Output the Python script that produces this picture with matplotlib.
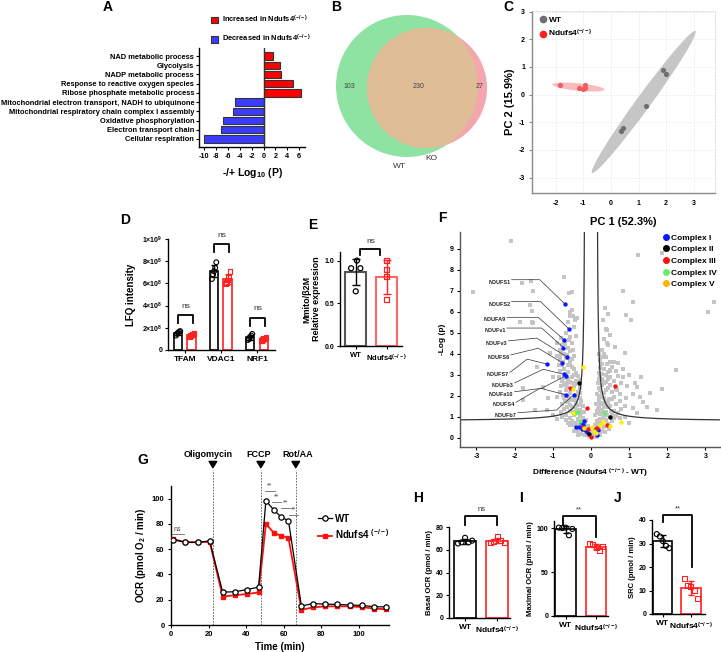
import numpy as np
import matplotlib
matplotlib.use('Agg')
import matplotlib.pyplot as plt
from matplotlib.patches import Circle, Ellipse, Patch
from matplotlib.lines import Line2D

plt.rcParams['font.family'] = ['Liberation Sans', 'DejaVu Sans']
plt.rcParams['font.weight'] = 'bold'
plt.rcParams['axes.labelweight'] = 'bold'
plt.rcParams['axes.unicode_minus'] = False
plt.rcParams['mathtext.fontset'] = 'custom'
plt.rcParams['mathtext.rm'] = 'Liberation Sans:bold'
plt.rcParams['mathtext.it'] = 'Liberation Sans:bold'
plt.rcParams['mathtext.bf'] = 'Liberation Sans:bold'
plt.rcParams['mathtext.default'] = 'rm'
plt.rcParams['axes.linewidth'] = 1.0

KO = r'Ndufs4$^{(-/-)}$'

# ---------------- data ----------------
# A: GO terms
go_terms = ['NAD metabolic process', 'Glycolysis', 'NADP metabolic process',
            'Response to reactive oxygen species', 'Ribose phosphate metabolic process',
            'Mitochondrial electron transport, NADH to ubiquinone',
            'Mitochondrial respiratory chain complex I assembly',
            'Oxidative phosphorylation', 'Electron transport chain', 'Cellular respiration']
go_logp = [1.6, 2.7, 3.0, 5.0, 6.25, -4.9, -5.2, -6.9, -7.2, -10.1]

# B: venn
venn_counts = ['103', '230', '27']   # WT only, shared, KO only
venn_names = ['WT', 'KO']

# C: PCA
pca_wt_x = [1.87, 2.0, 1.27, 0.42, 0.38]
pca_wt_y = [0.87, 0.76, -0.42, -1.22, -1.33]
pca_ko_x = [-1.85, -1.15, -1.0, -0.95, -0.93]
pca_ko_y = [0.35, 0.22, 0.2, 0.25, 0.33]

# D: LFQ intensity
lfq_genes = ['TFAM', 'VDAC1', 'NRF1']
lfq_wt = [[1.3e8, 1.45e8, 1.55e8, 1.65e8, 1.7e8],
          [6.4e8, 6.8e8, 7.1e8, 7.4e8, 7.9e8],
          [0.9e8, 1.0e8, 1.15e8, 1.3e8, 1.45e8]]
lfq_ko = [[1.25e8, 1.3e8, 1.35e8, 1.4e8, 1.45e8],
          [6.0e8, 6.1e8, 6.3e8, 6.5e8, 7.1e8],
          [0.85e8, 0.95e8, 1.0e8, 1.05e8, 1.15e8]]

# E: mito DNA
mmito_wt = [1.0, 0.91, 0.91, 0.64]
mmito_ko = [1.0, 0.89, 0.81, 0.54]

# F: volcano
gray_pts = [(-0.35, 0.30), (-0.30, 0.50), (-0.25, 0.20), (-0.20, 0.40), (-0.15, 0.15), (-0.10, 0.35),
            (-0.05, 0.10), (-0.40, 0.45), (-0.45, 0.60), (-0.50, 0.80), (-0.55, 0.95), (-0.40, 0.70),
            (-0.35, 0.90), (-0.25, 0.75), (-0.20, 0.95), (-0.60, 0.70), (-0.30, 1.05), (-0.15, 0.70),
            (-0.65, 1.10), (-0.55, 1.30), (-0.50, 1.45), (-0.40, 1.40), (-0.30, 1.35), (-0.25, 1.20),
            (-0.70, 1.40), (-0.20, 1.50), (-0.45, 1.10), (-0.75, 1.60), (-0.60, 1.70), (-0.50, 1.80),
            (-0.40, 1.65), (-0.30, 1.90), (-0.70, 1.90), (-0.35, 1.55), (-0.55, 1.55), (-0.25, 1.75),
            (-0.80, 2.20), (-0.65, 2.30), (-0.55, 2.15), (-0.45, 2.45), (-0.35, 2.20), (-0.70, 2.50),
            (-0.30, 2.40), (-0.60, 2.00), (-0.50, 2.60), (-0.75, 2.70), (-0.60, 2.80), (-0.50, 2.90),
            (-0.40, 2.70), (-0.85, 2.90), (-0.35, 2.95), (-0.65, 2.60), (-0.80, 3.20), (-0.70, 3.30),
            (-0.60, 3.15), (-0.50, 3.40), (-0.40, 3.10), (-0.85, 3.45), (-0.55, 3.50), (-0.80, 3.70),
            (-0.65, 3.80), (-0.55, 3.65), (-0.45, 3.90), (-0.70, 4.00), (-0.90, 3.90), (-0.80, 4.20),
            (-0.60, 4.30), (-0.50, 4.50), (-0.70, 4.60), (-0.55, 4.80), (-0.65, 5.00), (-0.45, 5.30),
            (-0.75, 4.40), (-0.60, 5.50), (-0.50, 6.10), (-0.55, 5.80),
            (-0.75, 1.00), (-0.65, 0.85), (-0.55, 0.60), (-0.45, 0.35), (-0.35, 0.15), (-0.28, 0.62),
            (-0.18, 0.55), (-0.12, 0.85), (-0.08, 0.55), (-0.78, 1.25), (-0.62, 1.45), (-0.48, 1.25),
            (-0.38, 1.18), (-0.28, 1.55), (-0.18, 1.25), (-0.42, 1.85), (-0.58, 1.90), (-0.68, 1.75),
            (-0.72, 2.05), (-0.52, 2.35), (-0.40, 2.05), (-0.28, 2.15), (-0.62, 2.45), (-0.42, 2.55),
            (-0.78, 2.45), (-0.70, 2.85), (-0.55, 2.65), (-0.45, 3.00), (-0.30, 2.75), (-0.65, 3.05),
            (-0.75, 3.45), (-0.45, 3.30), (-0.60, 3.45), (-0.72, 3.60), (-0.50, 3.75), (-0.62, 3.95),
            (-0.78, 4.05), (-0.55, 4.15), (-0.68, 4.45), (-0.58, 4.65),
            (0.05, 0.10), (0.10, 0.30), (0.15, 0.20), (0.20, 0.40), (0.25, 0.15), (0.30, 0.35),
            (0.08, 0.45), (0.35, 0.50), (0.10, 0.60), (0.15, 0.80), (0.20, 0.65), (0.25, 0.90),
            (0.30, 0.70), (0.40, 0.85), (0.45, 0.65), (0.55, 0.80), (0.60, 0.95), (0.35, 1.00),
            (0.10, 1.10), (0.15, 1.30), (0.20, 1.45), (0.25, 1.15), (0.30, 1.35), (0.40, 1.25),
            (0.45, 1.45), (0.55, 1.10), (0.60, 1.30), (0.70, 1.20), (0.80, 1.40), (0.50, 1.50),
            (0.12, 1.60), (0.20, 1.80), (0.30, 1.65), (0.35, 1.90), (0.45, 1.70), (0.55, 1.85),
            (0.65, 1.60), (0.75, 1.75), (0.25, 1.95), (0.15, 2.10), (0.25, 2.30), (0.35, 2.15),
            (0.45, 2.40), (0.55, 2.20), (0.65, 2.35), (0.75, 2.10), (0.30, 2.50), (0.18, 2.60),
            (0.30, 2.80), (0.40, 2.65), (0.50, 2.90), (0.60, 2.70), (0.70, 2.95), (0.25, 2.95),
            (0.20, 3.10), (0.35, 3.30), (0.45, 3.15), (0.55, 3.40), (0.30, 3.50), (0.65, 3.20),
            (0.25, 3.70), (0.40, 3.85), (0.50, 3.60), (0.35, 4.00), (0.30, 4.20), (0.45, 4.40),
            (0.35, 4.70), (0.50, 4.90), (0.40, 5.20),
            (0.02, 0.30), (0.12, 0.05), (0.18, 0.55), (0.28, 0.55), (0.38, 0.30), (0.48, 0.45),
            (0.22, 0.85), (0.32, 0.95), (0.50, 1.00), (0.65, 1.05), (0.18, 1.20), (0.28, 1.25),
            (0.35, 1.45), (0.42, 1.10), (0.52, 1.30), (0.18, 1.40), (0.25, 1.60), (0.40, 1.55),
            (0.48, 1.85), (0.38, 1.75), (0.60, 1.95), (0.20, 2.00), (0.30, 2.15), (0.40, 2.30),
            (0.22, 2.40), (0.50, 2.50), (0.35, 2.60), (0.45, 2.80), (0.20, 2.80), (0.28, 3.05),
            (0.40, 3.00), (0.50, 3.20), (0.25, 3.35), (0.42, 3.50), (0.30, 3.85), (0.22, 4.00),
            (0.60, 3.60), (0.85, 3.30), (1.00, 3.00), (1.15, 2.60), (1.30, 2.90), (0.95, 2.45),
            (1.10, 2.10), (0.80, 2.60), (0.90, 1.50), (1.20, 1.20), (0.75, 0.95),
            (-2.09, 9.38), (-0.71, 7.68), (-0.57, 6.89), (-0.49, 6.94), (-3.10, 6.94), (-1.81, 7.36),
            (-1.58, 7.48), (-1.51, 6.97), (1.22, 8.71), (1.85, 8.79), (0.85, 7.00), (1.11, 6.49),
            (3.23, 6.49), (3.07, 5.99), (0.37, 6.18), (0.45, 5.89), (0.93, 5.86), (1.06, 5.59),
            (-0.55, 6.00), (-0.48, 5.80), (-0.42, 5.60), (-1.60, 6.33), (-1.55, 6.02), (-1.86, 5.54),
            (-1.55, 5.54), (-1.51, 5.46), (-0.36, 5.70), (2.24, 3.24), (1.85, 2.33), (1.46, 1.49),
            (1.28, 1.97), (1.20, 2.44), (0.85, 2.92), (0.72, 3.56), (0.41, 4.51), (0.41, 5.14),
            (0.32, 5.62), (0.63, 4.35), (0.89, 4.03), (0.50, 3.24), (0.67, 2.29), (0.93, 1.89),
            (1.11, 1.41), (1.37, 1.73), (1.72, 1.33), (1.54, 2.13), (-1.12, 1.89), (-1.77, 2.37),
            (-1.47, 1.33), (-1.25, 2.44), (-0.99, 2.92), (-1.42, 3.40), (-1.07, 4.03), (-0.90, 4.51),
            (-0.81, 3.87), (-0.90, 1.97), (-1.16, 1.33), (-0.77, 1.02), (-0.46, 4.19), (-0.38, 4.83),
            (-0.79, 4.75), (-1.77, 1.81), (-1.00, 1.10), (-0.90, 0.90), (0.90, 1.00), (1.00, 0.70)]
complex_I = [(-0.68, 6.37), (-0.58, 5.19), (-0.70, 4.67), (-0.72, 4.30), (-0.64, 3.87), (-0.76, 3.59),
             (-1.16, 3.52), (-0.71, 3.03), (-0.65, 2.97), (-0.66, 2.05), (-0.45, 2.05),
             (-0.38, 0.52), (-0.31, 0.50), (-0.24, 0.43), (-0.22, 0.62), (-0.16, 0.38), (-0.10, 0.30),
             (-0.25, 0.78), (-0.19, 0.80), (0.10, 0.43), (0.17, 0.15), (0.19, 0.40)]
complex_II = [(-0.31, 2.63), (0.51, 0.98), (-0.05, 0.20)]
complex_III = [(-0.55, 2.40), (0.63, 2.49), (-0.11, 1.41), (0.43, 0.62), (-0.22, 0.54),
               (-0.07, 0.41), (0.15, 0.49), (-0.01, 0.06)]
complex_IV = [(-0.35, 1.25), (-0.42, 1.20), (0.35, 1.20), (-0.29, 0.81)]
complex_V = [(-0.20, 3.37), (-0.46, 2.32), (-0.46, 1.17), (0.78, 0.75), (0.24, 0.63), (0.32, 0.75),
             (0.51, 0.57), (-0.18, 0.49), (0.04, 0.54), (0.08, 0.35), (0.12, 0.25)]
complex_names = ['Complex I', 'Complex II', 'Complex III', 'Complex IV', 'Complex V']
# label, text x, text y, elbow x, elbow y, target x, target y
volcano_labels = [('NDUFS1', -2.08, 7.53, -1.34, 7.53, -0.68, 6.37),
                  ('NDUFS2', -2.08, 6.49, -1.32, 6.49, -0.58, 5.19),
                  ('NDUFA9', -2.20, 5.74, -1.38, 5.74, -0.70, 4.67),
                  ('NDUFv1', -2.20, 5.23, -1.29, 5.23, -0.72, 4.30),
                  ('NDUFv3', -2.16, 4.62, -1.42, 4.75, -0.64, 3.87),
                  ('NDUFS6', -2.10, 3.95, -1.38, 4.27, -0.76, 3.59),
                  ('NDUFS7', -2.12, 3.12, -1.67, 3.75, -1.16, 3.52),
                  ('NDUFb3', -2.00, 2.62, -1.25, 3.27, -0.71, 3.03),
                  ('NDUFa10', -2.00, 2.20, -1.29, 2.36, -0.65, 2.97),
                  ('NDUFS4', -1.96, 1.70, -1.33, 2.37, -0.66, 2.05),
                  ('NDUFb7', -1.92, 1.20, -0.90, 1.33, -0.45, 2.05)]
# threshold curve parameters
thr_x0, thr_y0, thr_c = 0.15, 0.8, 0.2

# G: seahorse OCR
ocr_time = [1.2, 7.6, 14.2, 20.6, 27.5, 33.8, 40.4, 46.6, 50.5, 54.7, 58.6, 62.5,
            69.4, 75.7, 82.1, 88.5, 95.1, 101.5, 107.8, 114.2]
ocr_wt = [67.5, 65.5, 65.5, 66.5, 26.0, 26.3, 28.0, 30.0, 98.5, 91.0, 85.5, 82.5,
          15.0, 17.0, 16.5, 16.3, 15.8, 15.5, 14.5, 14.3]
ocr_ko = [68.0, 65.5, 65.5, 65.8, 22.5, 23.5, 24.5, 25.8, 80.0, 73.0, 70.5, 69.0,
          12.0, 14.0, 14.7, 14.8, 14.7, 14.2, 13.0, 12.5]
inj_names = ['Oligomycin', 'FCCP', 'Rot/AA']
inj_time = [22.3, 47.8, 66.4]
ocr_sig = [(0, 7, 72, 'ns'), (50, 55.4, 106, '**'), (54, 58.6, 97.4, '**'),
           (58.6, 63.5, 92.3, '**'), (63, 67.6, 87.3, '**')]

# H, I, J
basal_wt = [65.5, 66.5, 70.5, 66.5, 68.0]
basal_ko = [66.0, 67.5, 72.0, 68.5, 66.0]
max_wt = [100.5, 100.0, 100.5, 91.7, 99.0]
max_ko = [82.5, 81.0, 78.0, 74.0, 79.0]
src_wt = [34.0, 33.0, 31.0, 29.0, 28.0]
src_ko = [14.9, 12.3, 11.6, 10.2, 6.4]

# ---------------- figure ----------------
W, H = 721, 652
fig = plt.figure(figsize=(W / 100, H / 100), dpi=100)


def add_ax(l, t, r, b):
    return fig.add_axes([l / W, 1 - b / H, (r - l) / W, (b - t) / H])


def ftext(x, y, s, **kw):
    fig.text(x / W, 1 - y / H, s, **kw)


def clean(ax):
    ax.spines['top'].set_visible(False)
    ax.spines['right'].set_visible(False)


def bracket(ax, x1, x2, y, y1, y2, txt, ty, fs=6, lw=1.3):
    ax.plot([x1, x1, x2, x2], [y1, y, y, y2], color='k', lw=lw, clip_on=False)
    ax.text((x1 + x2) / 2, ty, txt, ha='center', va='center', fontsize=fs,
            fontweight='normal', color='#333333', clip_on=False)


for letter, x, y in [('A', 108, 7), ('B', 336, 7), ('C', 508, 7), ('D', 125, 220),
                     ('E', 313, 225), ('F', 442, 218), ('G', 143, 460), ('H', 418, 498),
                     ('I', 521, 498), ('J', 618, 498)]:
    ftext(x, y, letter, fontsize=10, fontweight='bold', ha='center', va='center')

# ---- A ----
ax = add_ax(199, 48, 305, 147)
ypos = np.arange(len(go_terms))
cols = ['#ff0000' if v > 0 else '#3c3cff' for v in go_logp]
ax.barh(ypos, go_logp, height=0.8, color=cols, edgecolor='#333333', linewidth=0.8)
ax.axvline(0, color='#333333', lw=1.0)
ax.set_ylim(len(go_terms) - 0.13, -0.87)
ax.set_xlim(-10.9, 7.0)
ax.set_yticks(ypos)
ax.set_yticklabels(go_terms)
ax.set_xticks(np.arange(-10, 7, 2))
ax.tick_params(axis='y', length=2.5, width=0.8, pad=1, labelsize=5.4)
ax.tick_params(axis='x', length=2.5, width=0.8, pad=1.5, labelsize=5.2)
clean(ax)
ax.set_xlabel(r'-/+ Log$_{10}$ (P)', fontsize=7.5, labelpad=5)
ax.legend(handles=[Patch(fc='#ff0000', ec='#333333', lw=0.8, label='Increased in ' + KO),
                   Patch(fc='#3c3cff', ec='#333333', lw=0.8, label='Decreased in ' + KO)],
          loc='upper left', bbox_to_anchor=(211 / W, 1 - 14 / H), bbox_transform=fig.transFigure,
          frameon=False, fontsize=5.4, handlelength=0.9, handleheight=0.9, handletextpad=0.6,
          labelspacing=1.05, borderaxespad=0, borderpad=0)

# ---- B ----
ax = add_ax(325, 5, 500, 180)
ax.set_xlim(325, 500)
ax.set_ylim(180, 5)
ax.axis('off')
g_circ = Circle((407, 86), 71, fc='#8ee3a2', ec='none')
p_circ = Circle((427, 88), 60, fc='#f3a6ac', ec='none')
ax.add_patch(g_circ)
ax.add_patch(p_circ)
inter = Circle((427, 88), 60, fc='#dfbd97', ec='none')
ax.add_patch(inter)
inter.set_clip_path(g_circ)
for s, x in zip(venn_counts, [349, 419, 480]):
    ax.text(x, 86, s, ha='center', va='center', fontsize=5, fontweight='normal', color='#404040')
ax.text(399, 166, venn_names[0], ha='center', va='center', fontsize=6, fontweight='normal', color='#333333')
ax.text(431, 158, venn_names[1], ha='center', va='center', fontsize=6, fontweight='normal', color='#333333')


# ---- C ----
def conf_ellipse(ax, x, y, **kw):
    cov = np.cov(x, y)
    vals, vecs = np.linalg.eigh(cov)
    order = vals.argsort()[::-1]
    vals, vecs = vals[order], vecs[:, order]
    angle = np.degrees(np.arctan2(vecs[1, 0], vecs[0, 0]))
    k = np.sqrt(5.991)
    w, h = 2 * k * np.sqrt(vals)
    ax.add_patch(Ellipse((np.mean(x), np.mean(y)), w, h, angle=angle, **kw))


ax = add_ax(532, 11, 715, 193)
conf_ellipse(ax, pca_wt_x, pca_wt_y, fc='#c6c6c6', ec='none', zorder=1)
conf_ellipse(ax, pca_ko_x, pca_ko_y, fc='#f8bcbc', ec='none', zorder=1)
ax.scatter(pca_wt_x, pca_wt_y, s=14, c='#6e6e6e', zorder=3, lw=0)
ax.scatter(pca_ko_x, pca_ko_y, s=14, c='#f25c5c', zorder=3, lw=0)
ax.set_xlim(-2.86, 3.77)
ax.set_ylim(-3.56, 3.02)
ax.set_xticks(range(-2, 4))
ax.set_yticks(range(-3, 4))
ax.grid(True, color='#e4e4e4', lw=0.5, ls=(0, (2, 2)))
ax.set_axisbelow(True)
for s in ['top', 'right']:
    ax.spines[s].set_color('#d8d8d8')
    ax.spines[s].set_linestyle((0, (2, 2)))
    ax.spines[s].set_linewidth(0.6)
for s in ['left', 'bottom']:
    ax.spines[s].set_color('#8a8a8a')
ax.tick_params(labelsize=5, length=2, color='#8a8a8a', pad=3)
ax.tick_params(axis='x', length=0, pad=5)
ax.set_xlabel('PC 1 (52.3%)', fontsize=8, labelpad=7)
ax.set_ylabel('PC 2 (15.9%)', fontsize=8, labelpad=3)
ax.legend(handles=[Line2D([], [], marker='o', ls='', color='#6e6e6e', ms=4.5, label='WT'),
                   Line2D([], [], marker='o', ls='', color='#ff2020', ms=4.5, label=KO)],
          loc='upper left', bbox_to_anchor=(0.04, 0.97), frameon=False, fontsize=6,
          handletextpad=0.1, labelspacing=0.45, borderaxespad=0, handlelength=1.0, borderpad=0)

# ---- D ----
ax = add_ax(168, 239, 275, 350)
off, bw = 0.19, 0.24
for i in range(len(lfq_genes)):
    for vals, dx, col, mk in [(lfq_wt[i], -off, 'black', 'o'), (lfq_ko[i], off, '#ff2020', 's')]:
        m, sd = np.mean(vals), np.std(vals, ddof=1)
        ax.bar(i + dx, m, bw, fc='white', ec=col, lw=1.2, zorder=1)
        ax.errorbar(i + dx, m, yerr=sd, color=col, capsize=2, lw=1, capthick=1, zorder=2)
        ax.scatter(i + dx + np.linspace(-0.06, 0.06, len(vals)), vals, marker=mk, s=12,
                   facecolors='none', edgecolors=col, lw=0.8, zorder=3)
ax.set_xlim(-0.47, 2.5)
ax.set_ylim(0, 1e9)
ax.set_yticks([0, 2e8, 4e8, 6e8, 8e8, 1e9])
ax.set_yticklabels(['0', r'2×10$^8$', r'4×10$^8$', r'6×10$^8$', r'8×10$^8$', r'1×10$^9$'])
ax.set_xticks(range(len(lfq_genes)))
ax.set_xticklabels(lfq_genes)
ax.tick_params(axis='y', labelsize=5, length=2.5, pad=1.5)
ax.tick_params(axis='x', labelsize=6, length=2.5, pad=2)
clean(ax)
ax.set_ylabel('LFQ intensity', fontsize=7, labelpad=4)
bracket(ax, -0.19, 0.22, 3.15e8, 2.45e8, 2.45e8, 'ns', 3.95e8)
bracket(ax, 0.81, 1.22, 9.55e8, 8.8e8, 8.8e8, 'ns', 10.35e8)
bracket(ax, 1.81, 2.22, 2.9e8, 2.15e8, 2.15e8, 'ns', 3.7e8)

# ---- E ----
ax = add_ax(340, 252, 402, 346)
for i, (vals, ec, pc, mk, dxs) in enumerate([(mmito_wt, '#555555', 'black', 'o', [0.04, -0.15, 0.15, 0.0]),
                                               (mmito_ko, '#ff6666', '#ff2020', 's', [0, 0, 0, 0])]):
    m, sd = np.mean(vals), np.std(vals, ddof=1)
    ax.bar(i, m, 0.69, fc='white', ec=ec, lw=1.5, zorder=1)
    ax.errorbar(i, m, yerr=sd, color=pc, capsize=3, lw=1, capthick=1, zorder=2)
    ax.scatter(i + np.array(dxs), vals, marker=mk, s=13, facecolors='none', edgecolors=pc, lw=0.9, zorder=3)
ax.set_xlim(-0.51, 1.5)
ax.set_ylim(0, 1.1)
ax.set_yticks([0, 0.5, 1.0])
ax.set_yticklabels(['0.0', '0.5', '1.0'])
ax.set_xticks([0, 1])
ax.set_xticklabels(['WT', KO])
ax.tick_params(axis='y', labelsize=5, length=2.5, pad=1.5)
ax.tick_params(axis='x', labelsize=5.5, length=2.5, pad=2)
clean(ax)
ax.set_ylabel('Mmito/β2M\nRelative expression', fontsize=6.5, labelpad=3, linespacing=1.0)
bracket(ax, 0.15, 0.8, 1.14, 1.06, 1.06, 'ns', 1.22)

# ---- F ----
ax = add_ax(460, 232, 720, 447)
gx, gy = zip(*gray_pts)
ax.scatter(gx, gy, s=5, c='#c4c4c4', marker='s', lw=0, zorder=1)
xc = np.linspace(thr_x0 + 0.02, 3.6, 400)
yc = thr_y0 + thr_c / (xc - thr_x0)
ax.plot(xc, yc, color='#333333', lw=0.9, zorder=2)
ax.plot(-xc, yc, color='#333333', lw=0.9, zorder=2)
cx_colors = ['#0a1aff', '#000000', '#ff1010', '#66ee66', '#ffee00']
for pts, col in zip([complex_I, complex_II, complex_III, complex_IV, complex_V], cx_colors):
    px, py = zip(*pts)
    ax.scatter(px, py, s=10, c=col, lw=0, zorder=4)
for name, tx, ty, ex, ey, px, py in volcano_labels:
    ax.plot([tx, ex, px], [ty, ey, py], color='#333333', lw=0.5, zorder=3)
    ax.text(tx - 0.03, ty - 0.12, name, ha='right', va='center', fontsize=4,
            color='#222222', family=['Liberation Sans Narrow', 'Liberation Sans'])
ax.set_xlim(-3.43, 3.38)
ax.set_ylim(-0.43, 9.8)
ax.set_xticks(range(-3, 4))
ax.set_yticks(range(0, 10))
ax.tick_params(labelsize=5, length=2.5, pad=2)
ax.spines['left'].set_color('#555555')
ax.spines['bottom'].set_color('#555555')
clean(ax)
ax.set_ylabel('-Log (p)', fontsize=6, labelpad=3)
ax.set_xlabel('Difference (Ndufs4 $^{(-/-)}$ - WT)', fontsize=6, labelpad=5)
legend_cols = ['#0a1aff', '#000000', '#ff1010', '#66ee66', '#ffb400']
ax.legend(handles=[Line2D([], [], marker='o', ls='', color=c, ms=4, label=n)
                   for c, n in zip(legend_cols, complex_names)],
          loc='upper left', bbox_to_anchor=(662 / W, 1 - 234 / H), bbox_transform=fig.transFigure,
          frameon=False, fontsize=6, handletextpad=0.05, labelspacing=0.45, borderaxespad=0,
          handlelength=1.0, borderpad=0)

# ---- G ----
ax = add_ax(171, 486, 389, 625)
ko_line, = ax.plot(ocr_time, ocr_ko, '-s', color='#ff1010', ms=3.5, lw=1.3, zorder=3,
                   label='Ndufs4 $^{(-/-)}$')
wt_line, = ax.plot(ocr_time, ocr_wt, '-o', color='black', mfc='white', ms=3.8, mew=0.9, lw=0.9,
                   zorder=4, label='WT')
ax.set_xlim(0, 116)
ax.set_ylim(0, 110)
ax.set_xticks(range(0, 101, 20))
ax.set_yticks(range(0, 101, 20))
ax.tick_params(labelsize=5.5, length=2.5, pad=2)
clean(ax)
for t, name, dx in zip(inj_time, inj_names, [-2.6, -1.2, 1.0]):
    ax.plot([t, t], [0, 122.7], ls=(0, (2, 1.5)), color='#555555', lw=0.6, clip_on=False, zorder=1)
    ax.annotate('', xy=(t, 122.3), xytext=(t, 128.8),
                arrowprops=dict(arrowstyle='simple,head_width=0.55,head_length=0.45,tail_width=0.22',
                                fc='black', ec='black'), annotation_clip=False)
    ax.text(t + dx, 134.6, name, ha='center', va='center', fontsize=6.5, clip_on=False)
for x1, x2, y, s in ocr_sig:
    ax.plot([x1, x2], [y, y], color='#666666', lw=0.6)
    ax.text((x1 + x2) / 2, y + 1.2, s, ha='center', va='bottom', fontsize=5, fontweight='normal',
            color='#444444')
ax.set_ylabel(r'OCR (pmol O$_2$ / min)', fontsize=7, labelpad=3)
ax.set_xlabel('Time (min)', fontsize=7, labelpad=3)
ax.legend(handles=[wt_line, ko_line], loc='upper left', bbox_to_anchor=(0.675, 0.8), frameon=False,
          fontsize=7, handlelength=1.4, handletextpad=0.3, labelspacing=0.35, borderaxespad=0,
          borderpad=0)


# ---- H, I, J ----
def dot_bar(rect, wt, ko, xlim, ylim, yticks, ylabel, sig):
    ax = add_ax(*rect)
    for i, (vals, ec, mk) in enumerate([(wt, 'black', 'o'), (ko, '#ff2020', 's')]):
        m, sd = np.mean(vals), np.std(vals, ddof=1)
        ax.bar(i, m, 0.68, fc='white', ec=ec, lw=1.2, zorder=1)
        ax.errorbar(i, m, yerr=sd, color=ec, capsize=2.5, lw=1, capthick=1, zorder=2)
        ax.scatter(i + np.linspace(-0.22, 0.22, len(vals)), vals, marker=mk, s=13,
                   facecolors='none', edgecolors=ec, lw=0.8, zorder=3)
    ax.set_xlim(*xlim)
    ax.set_ylim(*ylim)
    ax.set_yticks(yticks)
    ax.set_xticks([0, 1])
    ax.set_xticklabels(['WT', KO])
    ax.tick_params(axis='y', labelsize=5, length=2.5, pad=1.5)
    ax.tick_params(axis='x', labelsize=6, length=2.5, pad=2)
    clean(ax)
    ax.set_ylabel(ylabel, fontsize=5.5, labelpad=2)
    bracket(ax, *sig, fs=5.5)
    return ax


dot_bar((449, 527, 510, 618), basal_wt, basal_ko, (-0.5, 1.4), (0, 80), range(0, 81, 20),
        'Basal OCR (pmol / min)', (0, 1, 89.7, 82, 82, 'ns', 95.5))
dot_bar((554, 521, 608, 616), max_wt, max_ko, (-0.38, 1.39), (0, 108), [0, 50, 100],
        'Maximal OCR (pmol / min)', (-0.1, 1.0, 113.6, 104, 90, '**', 121))
dot_bar((652, 520, 705, 614), src_wt, src_ko, (-0.39, 1.5), (0, 40), range(0, 41, 10),
        'SRC (pmol / min)', (0, 1.05, 42.1, 39.3, 20, '**', 44.8))

fig.savefig('out.png', dpi=100)
